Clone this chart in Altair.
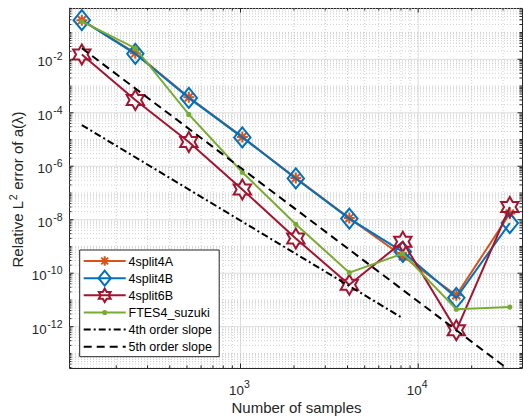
import altair as alt
import pandas as pd
import numpy as np

# ---------------- data ----------------
N = [128, 256, 512, 1024, 2048, 4096, 8192, 16384, 32768]
err_4split4A = [0.29, 0.017, 3.8e-4, 1.25e-5, 3.6e-7, 1.15e-8, 4.3e-10, 1.5e-11, 1.7e-8]
err_4split4B = [0.29, 0.016, 3.6e-4, 1.2e-5, 3.5e-7, 1.1e-8, 6.3e-10, 1.2e-11, 7.5e-9]
err_4split6B = [0.015, 3.0e-4, 8.1e-6, 1.35e-7, 2.0e-9, 3.7e-11, 1.5e-9, 7.3e-13, 3.0e-8]
err_FTES4 = [0.26, 0.026, 8.7e-5, 6.0e-7, 6.8e-9, 1.05e-10, 5.4e-10, 4.5e-12, 5.4e-12]

series_names = ["4split4A", "4split4B", "4split6B", "FTES4_suzuki"]
series_values = [err_4split4A, err_4split4B, err_4split6B, err_FTES4]
series_colors = ["#D95319", "#0072BD", "#A2142F", "#77AC30"]

slope4_N = [128, 8192]
slope4_err = [3.47e-5, 2.07e-12]
slope5_N = [128, 32768]
slope5_err = [0.026, 2.3e-14]
slope_names = ["4th order slope", "5th order slope"]

x_tick_values = [1e3, 1e4]
x_tick_exps = ["3", "4"]
y_tick_values = [1e-12, 1e-10, 1e-8, 1e-6, 1e-4, 1e-2]
y_tick_exps = ["-12", "-10", "-8", "-6", "-4", "-2"]
tick_base = "10"

x_title = "Number of samples"
y_title_parts = ["Relative L", "2", "error of a(λ)"]   # "2" is a superscript

# ---------------- layout / style ----------------
W, H = 453, 360
FONT = "Liberation Sans, Arial, Helvetica, sans-serif"
TXT = "#262626"
FS_TICK, FS_EXP, FS_TITLE, FS_LEG = 13.3, 10.5, 15.0, 12.5
X_DOM = [108.4, 38370]
Y_DOM = [10 ** -13.545, 10 ** -0.082]
x_scale = alt.Scale(type="log", domain=X_DOM, nice=False)
y_scale = alt.Scale(type="log", domain=Y_DOM, nice=False)

# approximate Arial advance widths (em) used to place superscripts
AW = {c: 0.556 for c in "0123456789aeLo"}
AW.update({"R": 0.722, "l": 0.222, "t": 0.278, "i": 0.222, "v": 0.5, " ": 0.278,
           "r": 0.333, "f": 0.278, "(": 0.333, ")": 0.333, "λ": 0.5, "-": 0.333})


def text_width(s, fs):
    return sum(AW.get(c, 0.556) for c in s) * fs


def X(field):
    return alt.X(field, scale=x_scale, axis=None)


def Y(field):
    return alt.Y(field, scale=y_scale, axis=None)


# marker paths (unit box -1..1)
asterisk = "M0,-1L0,1M-1,0L1,0M-0.72,-0.72L0.72,0.72M-0.72,0.72L0.72,-0.72"
diamond = "M0,-1L0.82,0L0,1L-0.82,0Z"
hexa_pts = []
for k in range(12):
    a = np.deg2rad(-90 + 30 * k)
    r = 1.0 if k % 2 == 0 else 0.57735
    hexa_pts.append(f"{r*np.cos(a):.4f},{r*np.sin(a):.4f}")
hexagram = "M" + "L".join(hexa_pts) + "Z"
marker_shapes = [asterisk, diamond, hexagram, "circle"]
marker_sizes = [121, 400, 400, 26]
legend_marker_sizes = [90, 225, 185, 26]

# ---------------- grid / tick positions ----------------
x_minor = [k * 10 ** e for e in range(2, 5) for k in range(2, 10) if X_DOM[0] <= k * 10 ** e <= X_DOM[1]]
y_all = [k * 10.0 ** e for e in range(-14, 1) for k in range(1, 10)]
y_minor = [v for v in y_all if Y_DOM[0] <= v <= Y_DOM[1]
           and not any(abs(np.log10(v) - np.log10(m)) < 1e-6 for m in y_tick_values)]

layers = []

# major grid
layers.append(alt.Chart(pd.DataFrame({"v": x_tick_values})).mark_rule(
    color="#dedede", strokeWidth=1).encode(x=X("v:Q"), y=alt.value(0), y2=alt.value(H)))
layers.append(alt.Chart(pd.DataFrame({"v": y_tick_values})).mark_rule(
    color="#dedede", strokeWidth=1).encode(y=Y("v:Q"), x=alt.value(0), x2=alt.value(W)))
# minor grid (dotted)
minor_dash = [1, 2]
minor_col = "#c4c4c4"
layers.append(alt.Chart(pd.DataFrame({"v": x_minor})).mark_rule(
    color=minor_col, strokeDash=minor_dash, strokeWidth=0.8).encode(
    x=X("v:Q"), y=alt.value(0), y2=alt.value(H)))
layers.append(alt.Chart(pd.DataFrame({"v": y_minor})).mark_rule(
    color=minor_col, strokeDash=minor_dash, strokeWidth=0.8).encode(
    y=Y("v:Q"), x=alt.value(0), x2=alt.value(W)))

# ---------------- series ----------------
for name, vals, col, shp, sz in zip(series_names, series_values, series_colors,
                                     marker_shapes, marker_sizes):
    c = alt.Chart(pd.DataFrame({"N": N, "err": vals}))
    layers.append(c.mark_line(color=col, strokeWidth=2).encode(x=X("N:Q"), y=Y("err:Q")))
    filled = shp == "circle"
    layers.append(c.mark_point(shape=shp, size=sz, color=col, filled=filled,
                               strokeWidth=2 if not filled else 1, opacity=1).encode(
        x=X("N:Q"), y=Y("err:Q")))

# ---------------- slopes ----------------
slope_dashes = [[7, 3, 2, 3], [8, 5]]
for sN, sE, dash in zip([slope4_N, slope5_N], [slope4_err, slope5_err], slope_dashes):
    layers.append(alt.Chart(pd.DataFrame({"N": sN, "err": sE})).mark_line(
        color="black", strokeWidth=2, strokeDash=dash, clip=True).encode(
        x=X("N:Q"), y=Y("err:Q")))


# ---------------- inside ticks on all four sides ----------------
def yticks(vals, ln):
    d = alt.Chart(pd.DataFrame({"v": vals}))
    return [d.mark_rule(color=TXT, strokeWidth=1).encode(y=Y("v:Q"), x=alt.value(0), x2=alt.value(ln)),
            d.mark_rule(color=TXT, strokeWidth=1).encode(y=Y("v:Q"), x=alt.value(W - ln), x2=alt.value(W))]


def xticks(vals, ln):
    d = alt.Chart(pd.DataFrame({"v": vals}))
    return [d.mark_rule(color=TXT, strokeWidth=1).encode(x=X("v:Q"), y=alt.value(H - ln), y2=alt.value(H)),
            d.mark_rule(color=TXT, strokeWidth=1).encode(x=X("v:Q"), y=alt.value(0), y2=alt.value(ln))]


layers += yticks(y_tick_values, 4.5) + yticks(y_minor, 2.5)
layers += xticks(x_tick_values, 4.5) + xticks(x_minor, 2.5)

# ---------------- tick labels (10 with a raised exponent) ----------------
# x axis
xl = alt.Chart(pd.DataFrame({"v": x_tick_values, "e": x_tick_exps, "b": tick_base}))
layers.append(xl.mark_text(font=FONT, fontSize=FS_TICK, color=TXT, align="right",
                           baseline="alphabetic", dx=3.4).encode(
    x=X("v:Q"), y=alt.value(H + 27), text="b:N"))
layers.append(xl.mark_text(font=FONT, fontSize=FS_EXP, color=TXT, align="left",
                           baseline="alphabetic", dx=3.6).encode(
    x=X("v:Q"), y=alt.value(H + 19.5), text="e:N"))
# y axis: exponent right-aligned, base placed just left of it
EXP_RIGHT = -6.5
for v, e in zip(y_tick_values, y_tick_exps):
    d = alt.Chart(pd.DataFrame({"v": [v], "e": [e], "b": [tick_base]}))
    ew = text_width(e, FS_EXP)
    layers.append(d.mark_text(font=FONT, fontSize=FS_EXP, color=TXT, align="right",
                              baseline="alphabetic", dy=1).encode(
        y=Y("v:Q"), x=alt.value(EXP_RIGHT), text="e:N"))
    layers.append(d.mark_text(font=FONT, fontSize=FS_TICK, color=TXT, align="right",
                              baseline="alphabetic", dy=7).encode(
        y=Y("v:Q"), x=alt.value(EXP_RIGHT - ew - 0.8), text="b:N"))

# ---------------- axis titles ----------------
layers.append(alt.Chart(pd.DataFrame({"t": [x_title]})).mark_text(
    font=FONT, fontSize=FS_TITLE, color=TXT, align="center", baseline="alphabetic").encode(
    x=alt.value(W / 2 + 1), y=alt.value(404.7), text="t:N"))

space_w = text_width(" ", FS_TITLE)
w_parts = [text_width(y_title_parts[0], FS_TITLE), text_width(y_title_parts[1], FS_EXP) + 1,
           space_w, text_width(y_title_parts[2], FS_TITLE)]
y_center = 181.5
y_start = y_center + sum(w_parts) / 2
TITLE_BASE_X = -46.5
part_pos = [(y_start, TITLE_BASE_X, FS_TITLE),
            (y_start - w_parts[0] - 0.5, TITLE_BASE_X - 6, FS_EXP),
            (y_start - w_parts[0] - w_parts[1] - w_parts[2], TITLE_BASE_X, FS_TITLE)]
for part, (py, px, fs) in zip(y_title_parts, part_pos):
    layers.append(alt.Chart(pd.DataFrame({"t": [part]})).mark_text(
        font=FONT, fontSize=fs, color=TXT, align="left", baseline="alphabetic", angle=270).encode(
        x=alt.value(px), y=alt.value(py), text="t:N"))

# ---------------- legend (drawn by hand) ----------------
LX0, LX1, LY0, LY1 = 10.7, 150.2, 242, 348.7
layers.append(alt.Chart(pd.DataFrame({"a": [0]})).mark_rect(
    fill="white", stroke=TXT, strokeWidth=1).encode(
    x=alt.value(LX0), x2=alt.value(LX1), y=alt.value(LY0), y2=alt.value(LY1)))

leg_names = series_names + slope_names
leg_colors = series_colors + ["black", "black"]
leg_dashes = [None] * 4 + slope_dashes
for i, (name, col, dash) in enumerate(zip(leg_names, leg_colors, leg_dashes)):
    ly = 253 + i * 17.15
    d = alt.Chart(pd.DataFrame({"name": [name]}))
    kw = dict(color=col, strokeWidth=2)
    if dash is not None:
        kw["strokeDash"] = dash
    layers.append(d.mark_rule(**kw).encode(x=alt.value(14.7), x2=alt.value(56.7), y=alt.value(ly)))
    if i < 4:
        filled = marker_shapes[i] == "circle"
        layers.append(d.mark_point(shape=marker_shapes[i], size=legend_marker_sizes[i],
                                   color=col, filled=filled, opacity=1,
                                   strokeWidth=2 if not filled else 1).encode(
            x=alt.value(35.7), y=alt.value(ly)))
    layers.append(d.mark_text(align="left", baseline="middle", font=FONT, fontSize=FS_LEG,
                              color="black").encode(
        x=alt.value(59.5), y=alt.value(ly + 0.5), text="name:N"))

chart = alt.layer(*layers).properties(
    width=W, height=H, autosize="none",
    padding={"left": 69, "top": 8, "right": 2, "bottom": 51},
    background="white",
).configure_view(stroke=TXT, strokeWidth=1)

chart.save("out.html", embed_options={"renderer": "svg", "actions": False})
